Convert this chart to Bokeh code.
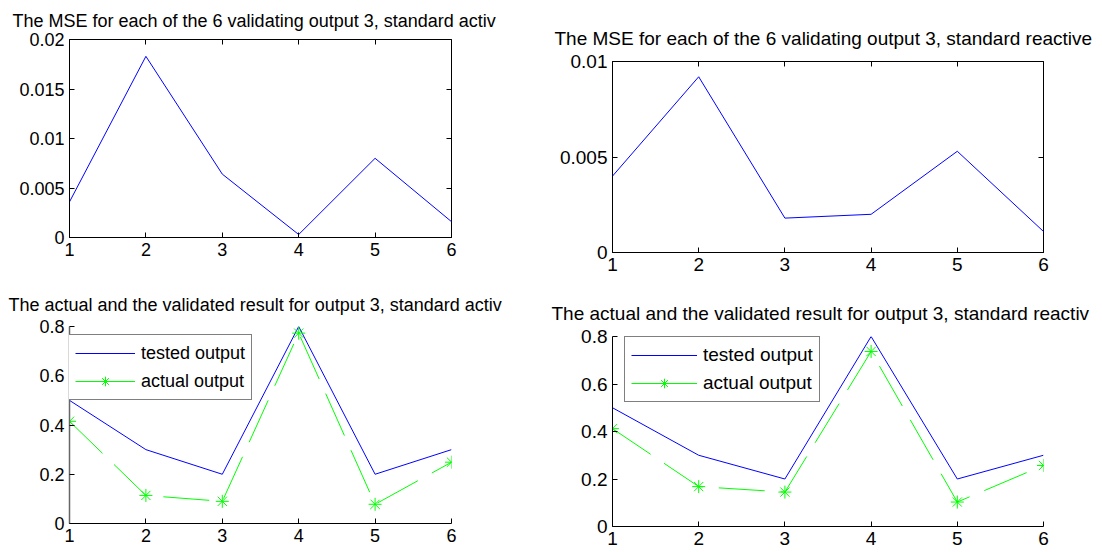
from bokeh.plotting import figure
from bokeh.models import Range1d, FixedTicker, LinearAxis, Legend, LegendItem
from bokeh.layouts import row, column
from bokeh.embed import file_html
from bokeh.resources import INLINE

FONT = "Liberation Sans"

# ---- data ----
x_index = [1, 2, 3, 4, 5, 6]
mse_active = [0.0036, 0.0183, 0.0064, 0.0003, 0.0080, 0.0016]
mse_reactive = [0.0040, 0.0092, 0.0018, 0.0020, 0.0053, 0.0011]
tested_active = [0.5, 0.3, 0.2, 0.8, 0.2, 0.3]
actual_active = [0.415, 0.114, 0.090, 0.773, 0.078, 0.249]
tested_reactive = [0.5, 0.3, 0.2, 0.8, 0.2, 0.3]
actual_reactive = [0.412, 0.168, 0.145, 0.737, 0.103, 0.257]

x_ticks = [1, 2, 3, 4, 5, 6]
x_labels = ["1", "2", "3", "4", "5", "6"]
mse_active_ticks = [0, 0.005, 0.01, 0.015, 0.02]
mse_active_labels = ["0", "0.005", "0.01", "0.015", "0.02"]
mse_reactive_ticks = [0, 0.005, 0.01]
mse_reactive_labels = ["0", "0.005", "0.01"]
result_ticks = [0, 0.2, 0.4, 0.6, 0.8]
result_labels = ["0", "0.2", "0.4", "0.6", "0.8"]

titles = [
    "The MSE for each of the 6 validating output 3, standard activ",
    "The MSE for each of the 6 validating output 3, standard reactive",
    "The actual and the validated result for output 3, standard activ",
    "The actual and the validated result for output 3, standard reactiv",
]
legend_labels = ["tested output", "actual output"]


def style_axis(ax, ticks, labels, fs):
    ax.ticker = FixedTicker(ticks=ticks)
    ax.major_label_overrides = {float(t): l for t, l in zip(ticks, labels)}
    ax.major_tick_in = 5
    ax.major_tick_out = 0
    ax.minor_tick_line_color = None
    ax.major_tick_line_color = "black"
    ax.axis_line_color = "black"
    ax.major_label_text_font = FONT
    ax.major_label_text_font_size = fs
    ax.major_label_text_color = "black"
    ax.major_label_standoff = 5


def make_fig(width, height, left, right, top, bottom, yr, yt, yl, title, toff, tstand, boxed, fs,
             valign="bottom"):
    p = figure(width=width, height=height, x_range=Range1d(1, 6), y_range=Range1d(*yr),
               output_backend="svg", toolbar_location=None,
               min_border_left=left, min_border_right=right,
               min_border_top=top, min_border_bottom=bottom)
    p.xgrid.visible = False
    p.ygrid.visible = False
    p.background_fill_color = "white"
    p.border_fill_color = "white"
    style_axis(p.xaxis[0], x_ticks, x_labels, fs)
    style_axis(p.yaxis[0], yt, yl, fs)
    p.title.text = title
    p.title.text_font = FONT
    p.title.text_font_size = fs
    p.title.text_font_style = "normal"
    p.title.text_color = "black"
    p.title.align = "left"
    p.title.vertical_align = valign
    p.title.offset = toff
    p.title.standoff = tstand
    if boxed:
        p.outline_line_color = "black"
        p.outline_line_width = 1
        p.outline_line_alpha = 1
        for loc, tk in (("right", yt), ("above", x_ticks)):
            ax = LinearAxis(ticker=FixedTicker(ticks=tk))
            ax.major_label_text_font_size = "1px"
            ax.major_label_text_color = None
            ax.major_label_standoff = 0
            ax.major_tick_in = 5
            ax.major_tick_out = 0
            ax.minor_tick_line_color = None
            ax.axis_line_color = None
            ax.major_tick_line_color = "black"
            p.add_layout(ax, loc)
    else:
        p.outline_line_color = None
    return p


def add_result(p, tested, actual, loc, fs, glyph_w):
    b = p.line(x_index, tested, line_color="#0000ff", line_width=1)
    p.line(x_index, actual, line_color="#00ff00", line_width=1, line_dash="46 16")
    s = p.scatter(x_index, actual, marker="asterisk", size=13, line_color="#00ff00", line_width=1)
    # solid legend sample: same series on an off-screen range (clipped out of the frame)
    p.extra_y_ranges = {"legend_proxy": Range1d(10, 11)}
    proxy = p.line(x_index, actual, line_color="#00ff00", line_width=1, y_range_name="legend_proxy")
    leg = Legend(items=[LegendItem(label=legend_labels[0], renderers=[b]),
                        LegendItem(label=legend_labels[1], renderers=[proxy, s])],
                 location=loc)
    leg.border_line_color = "black"
    leg.border_line_width = 1
    leg.background_fill_color = "white"
    leg.background_fill_alpha = 1
    leg.label_text_font = FONT
    leg.label_text_font_size = fs
    leg.label_text_color = "black"
    leg.label_standoff = 6
    leg.glyph_width = glyph_w
    leg.glyph_height = 24
    leg.label_height = 24
    leg.spacing = 4
    leg.padding = 6
    leg.margin = 0
    p.add_layout(leg)


FS_L = "18px"
FS_R = "19px"

# top-left
p1 = make_fig(540, 280, 69, 89, 39, 43, (0, 0.02), mse_active_ticks, mse_active_labels,
              titles[0], -57, 14, True, FS_L, valign="top")
p1.line(x_index, mse_active, line_color="#0000ff", line_width=1)

# top-right
p2 = make_fig(562, 280, 72, 59, 61, 28, (0, 0.01), mse_reactive_ticks, mse_reactive_labels,
              titles[1], -58, 26, True, FS_R)
p2.line(x_index, mse_reactive, line_color="#0000ff", line_width=1)

# bottom-left
p3 = make_fig(540, 272, 69, 89, 45, 29, (0, 0.8), result_ticks, result_labels,
              titles[2], -61, 24, False, FS_L)
p3.yaxis[0].axis_line_color = "#666666"
p3.yaxis[0].axis_line_width = 1.5
add_result(p3, tested_active, actual_active, (-1, 123), FS_L, 60)

# bottom-right
p4 = make_fig(562, 272, 72, 59, 56, 26, (0, 0.8), result_ticks, result_labels,
              titles[3], -61, 26, False, FS_R)
add_result(p4, tested_reactive, actual_reactive, (12, 124), FS_R, 66)

layout = row(column(p1, p3, spacing=0), column(p2, p4, spacing=0), spacing=0)

open("out.html", "w").write(file_html(layout, INLINE))
